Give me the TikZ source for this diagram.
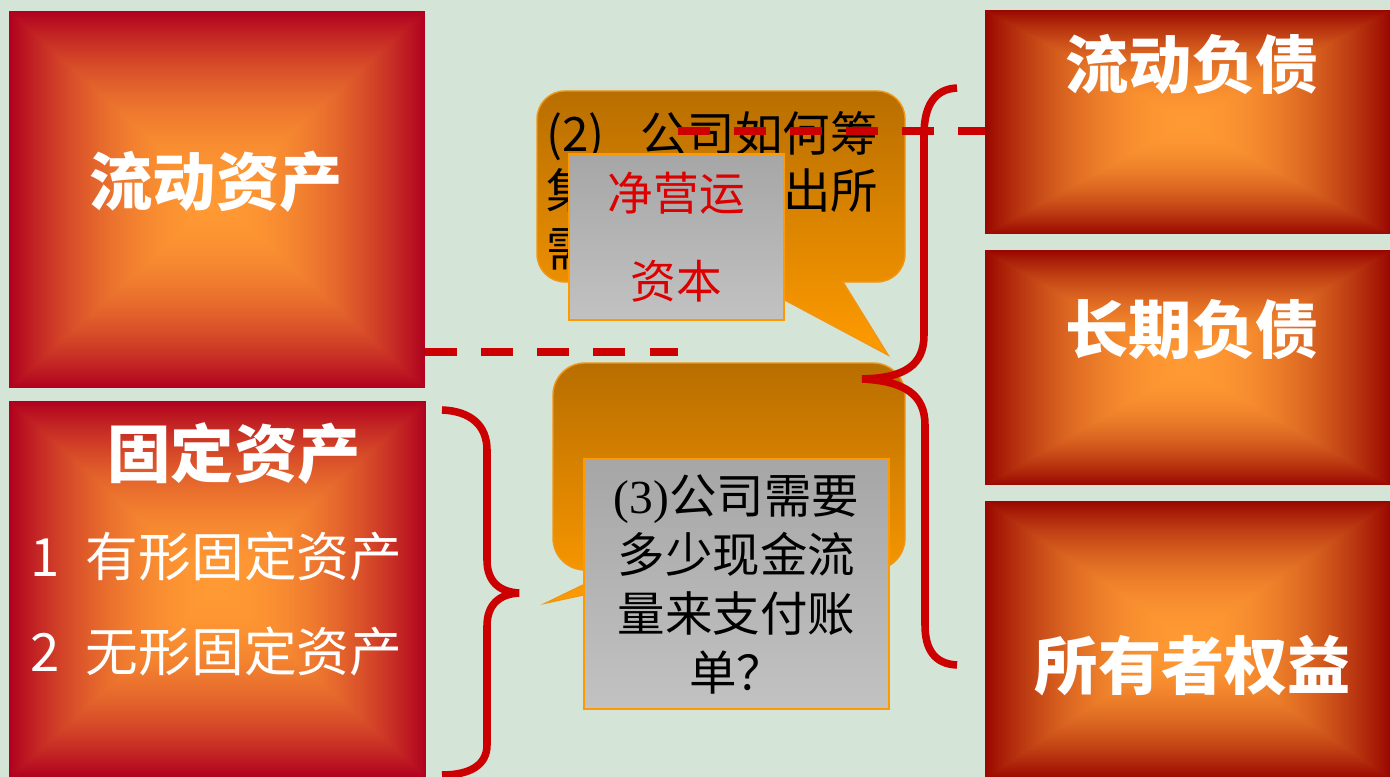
\documentclass[tikz,border=0pt]{standalone}
\usepackage{fontspec}
\setmainfont{Noto Sans CJK SC}
\newfontfamily\tnr{Liberation Serif}
\usetikzlibrary{positioning, calc}

\definecolor{bgcol}{RGB}{212,228,214}
\definecolor{linered}{RGB}{204,0,0}
\definecolor{bubtop}{RGB}{184,110,0}
\definecolor{bubbot}{RGB}{255,155,0}
\definecolor{bubedge}{RGB}{240,150,20}
\definecolor{notetop}{RGB}{166,166,166}
\definecolor{notebot}{RGB}{194,194,194}
\definecolor{noteedge}{RGB}{255,153,0}
\definecolor{nwcred}{RGB}{220,0,0}

% glow from the centre out to the edges of a box
\pgfdeclarefunctionalshading{leftglow}{\pgfpoint{-50bp}{-50bp}}{\pgfpoint{50bp}{50bp}}{}{
  abs exch abs 2 copy lt {exch} if pop 25 div dup 1 gt {pop 1} if dup mul
  dup -0.31 mul 1 add exch
  dup -0.6 mul 0.6 add exch
  -0.08 mul 0.2 add
}
\pgfdeclarefunctionalshading{rightglow}{\pgfpoint{-50bp}{-50bp}}{\pgfpoint{50bp}{50bp}}{}{
  abs exch abs 2 copy lt {exch} if pop 25 div dup 1 gt {pop 1} if dup mul
  dup -0.4 mul 1 add exch
  dup -0.57 mul 0.6 add exch
  -0.2 mul 0.2 add
}

\begin{document}
\begin{tikzpicture}[
        x=0.02cm, y=-0.02cm,
        assetbox/.style={shade, shading=leftglow, inner sep=0pt},
        claimbox/.style={shade, shading=rightglow, inner sep=0pt, minimum width=8.1cm},
        title/.style={text=white, inner sep=0pt, font=\bfseries\fontsize{36}{40}\selectfont},
        item/.style={text=white, align=left, inner sep=0pt, font=\fontsize{30}{54.6}\selectfont},
        bubble/.style={top color=bubtop, bottom color=bubbot, draw=bubedge, line width=0.8pt},
        note/.style={top color=notetop, bottom color=notebot, draw=noteedge, line width=1.5pt,
            inner sep=0pt, align=center},
        dashline/.style={draw=linered, line width=4.5pt, dash pattern=on 18.2pt off 13.7pt},
        brace/.style={draw=linered, line width=4.3pt},
    ]

    \useasboundingbox (0,0) rectangle (1390,777);
    \fill[bgcol] (0,0) rectangle (1390,777);

    % Assets on the left
    \node[assetbox, minimum width=8.32cm, minimum height=7.54cm] (ca) at (217,199.5) {};
    \node[title] (ca-lbl) at (216,182) {流动资产};

    \node[assetbox, minimum width=8.34cm, minimum height=7.52cm] (fa) at (217.5,589) {};
    \node[title] (fa-lbl) at (234,454) {固定资产};
    \node[item, anchor=west] (fa-items) at (30,604)
        {1\hspace{0.5em}有形固定资产\\2\hspace{0.5em}无形固定资产};

    % Liabilities and equity on the right
    \node[claimbox, minimum height=4.48cm] (cl) at (1187.5,122) {};
    \node[claimbox, minimum height=4.68cm, below=0.32cm of cl] (ll) {};
    \node[claimbox, minimum height=5.54cm, below=0.32cm of ll] (oe) {};
    \node[title] (cl-lbl) at (1192,64) {流动负债};
    \node[title] (ll-lbl) at (1192,330) {长期负债};
    \node[title] (oe-lbl) at (1193,666) {所有者权益};

    % Speech bubbles
    \path[bubble] (565,91) -- (877,91) arc[start angle=270, end angle=360, radius=28]
        -- (905,254) arc[start angle=0, end angle=90, radius=28]
        -- (843,282) -- (888,355) -- (751,282)
        -- (565,282) arc[start angle=90, end angle=180, radius=28]
        -- (537,119) arc[start angle=180, end angle=270, radius=28] -- cycle;
    \path[bubble] (585,363) -- (873,363) arc[start angle=270, end angle=360, radius=32]
        -- (905,538) arc[start angle=0, end angle=90, radius=32]
        -- (699,570) -- (546,603) -- (614,570)
        -- (585,570) arc[start angle=90, end angle=180, radius=32]
        -- (553,395) arc[start angle=180, end angle=270, radius=32] -- cycle;

    \node[anchor=west, align=left, inner sep=0pt, font=\fontsize{27}{32.7}\selectfont] (q2) at (546,190.5)
        {(2)\hspace{0.75em}公司如何筹\\集\hspace{4em}出所\\需\hspace{4em}};

    % Notes on top of the bubbles
    \node[note, minimum width=4.3cm, minimum height=3.32cm, text=nwcred,
        font=\fontsize{26}{50}\selectfont] (nwc) at (676.5,237) {净营运\\资本};
    \node[note, minimum width=6.1cm, minimum height=5cm,
        font=\fontsize{27}{33.6}\selectfont] (q3) at (736.5,584)
        {{\tnr (3)}公司需要\\多少现金流\\量来支付账\\单？};

    % Dashed links
    \coordinate (dashA) at (678,352);
    \coordinate (dashB) at (678,131);
    \draw[dashline] (ca.east |- dashA) -- (dashA);
    \draw[dashline] (dashB) -- (dashB -| cl.west);

    % Braces
    \coordinate (br1-top) at (957,88);
    \coordinate (br1-tip) at (862,379);
    \coordinate (br1-bot) at (957,665);
    \draw[brace] (br1-top) .. controls (935,89) and (924,105) .. (924,135) -- (924,335)
        .. controls (924,365) and (905,378) .. (br1-tip)
        .. controls (905,381) and (925,395) .. (925,425) -- (925,625)
        .. controls (925,650) and (935,664) .. (br1-bot);

    \coordinate (br2-top) at (442,410);
    \coordinate (br2-tip) at (519,593);
    \coordinate (br2-bot) at (442,775);
    \draw[brace] (br2-top) .. controls (470,411) and (487,425) .. (487,450) -- (487,560)
        .. controls (487,582) and (500,592) .. (br2-tip)
        .. controls (500,594) and (487,604) .. (487,626) -- (487,745)
        .. controls (487,765) and (470,775) .. (br2-bot);
\end{tikzpicture}
\end{document}
